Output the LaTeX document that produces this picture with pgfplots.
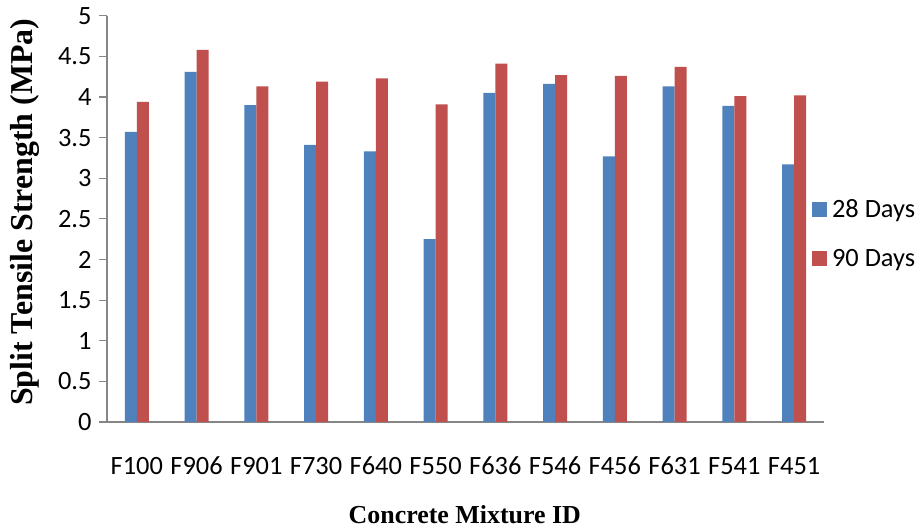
\documentclass[border=0pt]{standalone}
\usepackage{fontspec}
\setmainfont{Carlito}
\newfontfamily\timesfont{Liberation Serif}
\usepackage{pgfplots}
\pgfplotsset{compat=1.18}
\definecolor{cblue}{HTML}{4F81BD}
\definecolor{cred}{HTML}{C0504D}
\definecolor{axgray}{HTML}{868686}
\begin{document}
\begin{tikzpicture}
\useasboundingbox (0,0) rectangle (919bp,528bp);
\begin{axis}[
  at={(107bp,106bp)}, anchor=south west,
  scale only axis, width=717bp, height=406.3bp,
  ybar=0pt, bar width=0.2,
  xmin=-0.5, xmax=11.5, ymin=0, ymax=5,
  axis x line=bottom, axis y line=left,
  axis line style={axgray, line width=1.2bp, -},
  x axis line style={shorten <=-8bp},
  xtick={0,...,11},
  xticklabels={F100,F906,F901,F730,F640,F550,F636,F546,F456,F631,F541,F451},
  x tick style={draw=none},
  ytick={0,0.5,...,5},
  y tick style={axgray, line width=1.2bp},
  tick align=outside, major tick length=8bp,
  /pgf/number format/assume math mode=true,
  yticklabel style={/pgf/number format/fixed, anchor=east, xshift=-4bp},
  xticklabel style={anchor=center, yshift=-36bp},
  tick label style={font=\fontsize{26.5}{30}\selectfont},
  xlabel={Concrete Mixture ID},
  ylabel={Split Tensile Strength (MPa)},
  xlabel style={font=\timesfont\bfseries\fontsize{26}{30}\selectfont, at={(axis description cs:0.499,-0.229)}, anchor=center},
  ylabel style={font=\timesfont\bfseries\fontsize{32}{36}\selectfont, at={(axis description cs:-0.1144,0.516)}, anchor=center, rotate=0},
  legend style={draw=none, fill=none, at={(axis description cs:0.983,0.463)}, anchor=west,
    font=\fontsize{26.5}{30}\selectfont, inner sep=0pt, row sep=26bp, column sep=3bp,
    legend cell align=left},
  legend image code/.code={\fill[#1] (0bp,-7.5bp) rectangle (15bp,7.5bp);},
]
\addplot[fill=cblue, draw=none] coordinates {
(0,3.57) (1,4.31) (2,3.90) (3,3.41) (4,3.33) (5,2.25)
(6,4.05) (7,4.16) (8,3.27) (9,4.13) (10,3.89) (11,3.17)};
\addplot[fill=cred, draw=none] coordinates {
(0,3.94) (1,4.58) (2,4.13) (3,4.19) (4,4.23) (5,3.91)
(6,4.41) (7,4.27) (8,4.26) (9,4.37) (10,4.01) (11,4.02)};
\legend{28 Days, 90 Days}
\end{axis}
\end{tikzpicture}
\end{document}
